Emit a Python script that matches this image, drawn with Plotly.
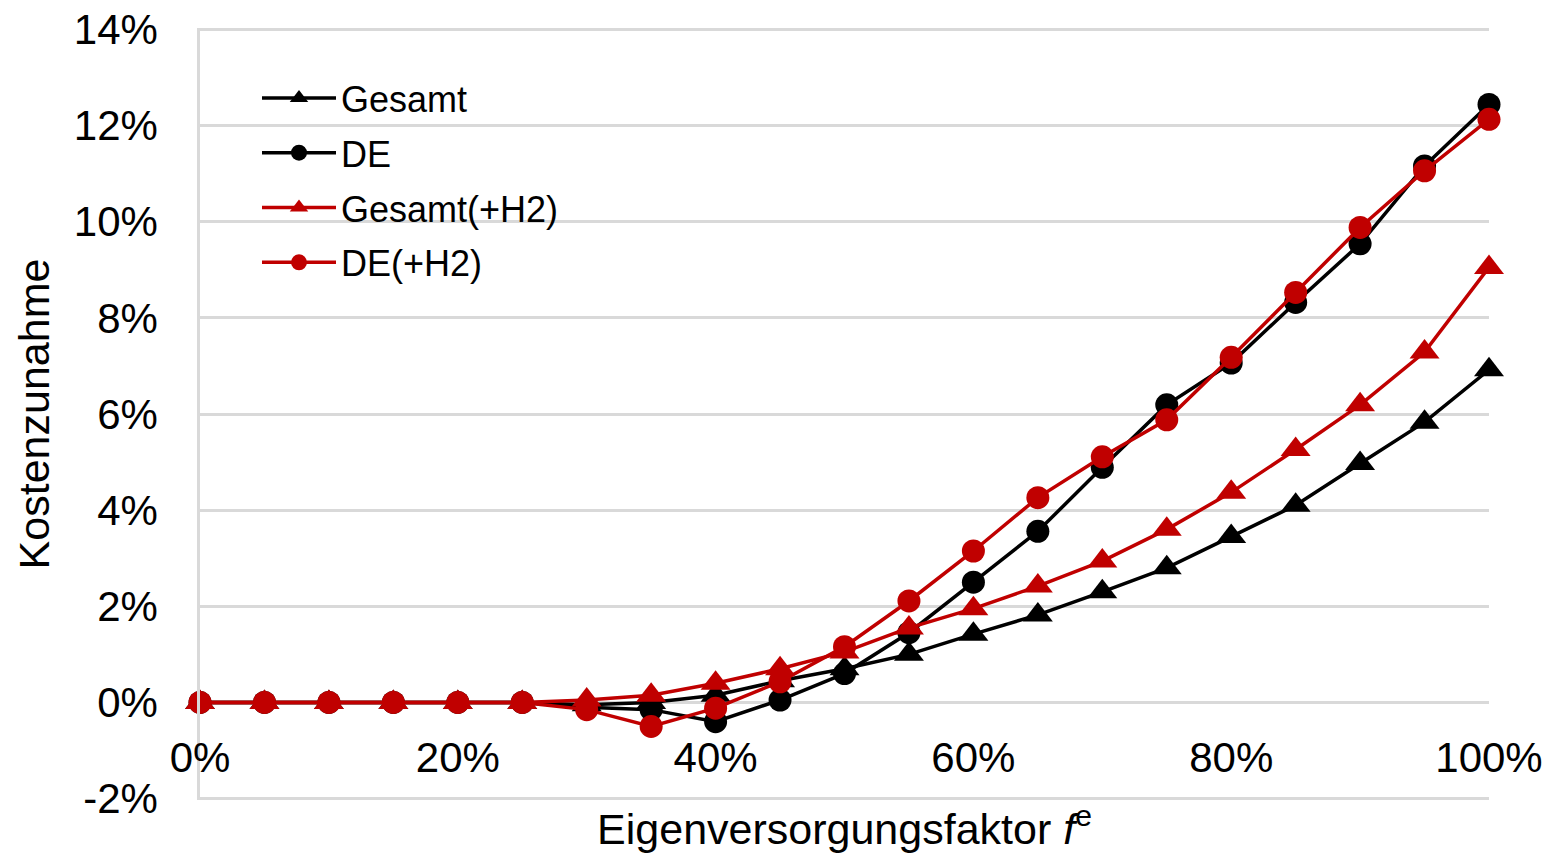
import plotly.graph_objects as go

x_vals = [0, 5, 10, 15, 20, 25, 30, 35, 40, 45, 50, 55, 60, 65, 70, 75, 80, 85, 90, 95, 100]
gesamt = [0, 0, 0, 0, 0, 0, -0.05, 0.0, 0.15, 0.45, 0.7, 1.0, 1.42, 1.82, 2.3, 2.8, 3.45, 4.1, 4.97, 5.83, 6.92]
de = [0, 0, 0, 0, 0, 0, -0.1, -0.15, -0.4, 0.05, 0.6, 1.45, 2.5, 3.56, 4.89, 6.19, 7.06, 8.32, 9.54, 11.16, 12.44]
gesamt_h2 = [0, 0, 0, 0, 0, 0, 0.05, 0.15, 0.4, 0.7, 1.05, 1.55, 1.95, 2.42, 2.94, 3.6, 4.37, 5.26, 6.19, 7.29, 9.05]
de_h2 = [0, 0, 0, 0, 0, 0, -0.15, -0.5, -0.12, 0.43, 1.16, 2.11, 3.15, 4.26, 5.11, 5.88, 7.18, 8.53, 9.88, 11.06, 12.13]

y_ticks = [-2, 0, 2, 4, 6, 8, 10, 12, 14]
y_ticktext = ["-2%", "0%", "2%", "4%", "6%", "8%", "10%", "12%", "14%"]
x_ticks = [0, 20, 40, 60, 80, 100]
x_ticktext = ["0%", "20%", "40%", "60%", "80%", "100%"]

series = [
    ("Gesamt", gesamt, "#000000", "triangle-up", 26),
    ("DE", de, "#000000", "circle", 23),
    ("Gesamt(+H2)", gesamt_h2, "#C00000", "triangle-up", 26),
    ("DE(+H2)", de_h2, "#C00000", "circle", 23),
]

FONT = "Liberation Sans, Arial, sans-serif"
PW, PH = 1289, 772  # plot area size in px

fig = go.Figure()
for i, (name, vals, color, sym, size) in enumerate(series):
    fig.add_trace(go.Scatter(
        x=x_vals, y=vals, name=name, mode="lines+markers",
        line=dict(color=color, width=3.5),
        marker=dict(symbol=sym, size=size, color=color),
        cliponaxis=False, legendgroup=f"g{i}",
    ))

# white legend panel covering the gridlines (as in the reference)
fig.add_shape(type="rect", xref="paper", yref="paper",
              x0=30 / PW, x1=431 / PW, y0=(772 - 272) / PH, y1=(772 - 22) / PH,
              fillcolor="white", line=dict(width=0), layer="between")

fig.update_layout(
    width=1550, height=857,
    margin=dict(l=200, r=61, t=28, b=57, autoexpand=False),
    paper_bgcolor="white", plot_bgcolor="white",
    font=dict(family=FONT, color="#000000", size=42),
    showlegend=True,
    legend=dict(
        x=57 / PW, y=(772 - 40) / PH, xanchor="left", yanchor="top",
        bgcolor="rgba(0,0,0,0)", font=dict(size=36, family=FONT),
        traceorder="grouped", tracegroupgap=5, itemwidth=74,
    ),
    xaxis=dict(
        range=[0, 100], tickvals=x_ticks, ticktext=x_ticktext,
        showgrid=False, zeroline=False, showline=False, ticks="",
        anchor="free", position=(0 - (-2.03)) / 16.06,
        ticklabelstandoff=27, automargin=False, ticklabeloverflow="allow",
        title=dict(text="Eigenversorgungsfaktor <i>f</i><sup>e</sup>", font=dict(size=43), standoff=33),
        tickfont=dict(size=42),
    ),
    yaxis=dict(
        range=[-2.03, 14.03], tickvals=y_ticks, ticktext=y_ticktext,
        showgrid=True, gridcolor="#d9d9d9", gridwidth=2.5,
        zeroline=False, showline=True, linecolor="#d9d9d9", linewidth=2.5,
        ticks="", ticklabelstandoff=31, automargin=False, ticklabeloverflow="allow",
        title=dict(text="Kostenzunahme", font=dict(size=43), standoff=11),
        tickfont=dict(size=42),
    ),
)

fig.write_html(
    "out.html",
    config={"displayModeBar": False},
    post_script="document.body.style.margin='0';document.body.style.overflow='hidden';",
)
